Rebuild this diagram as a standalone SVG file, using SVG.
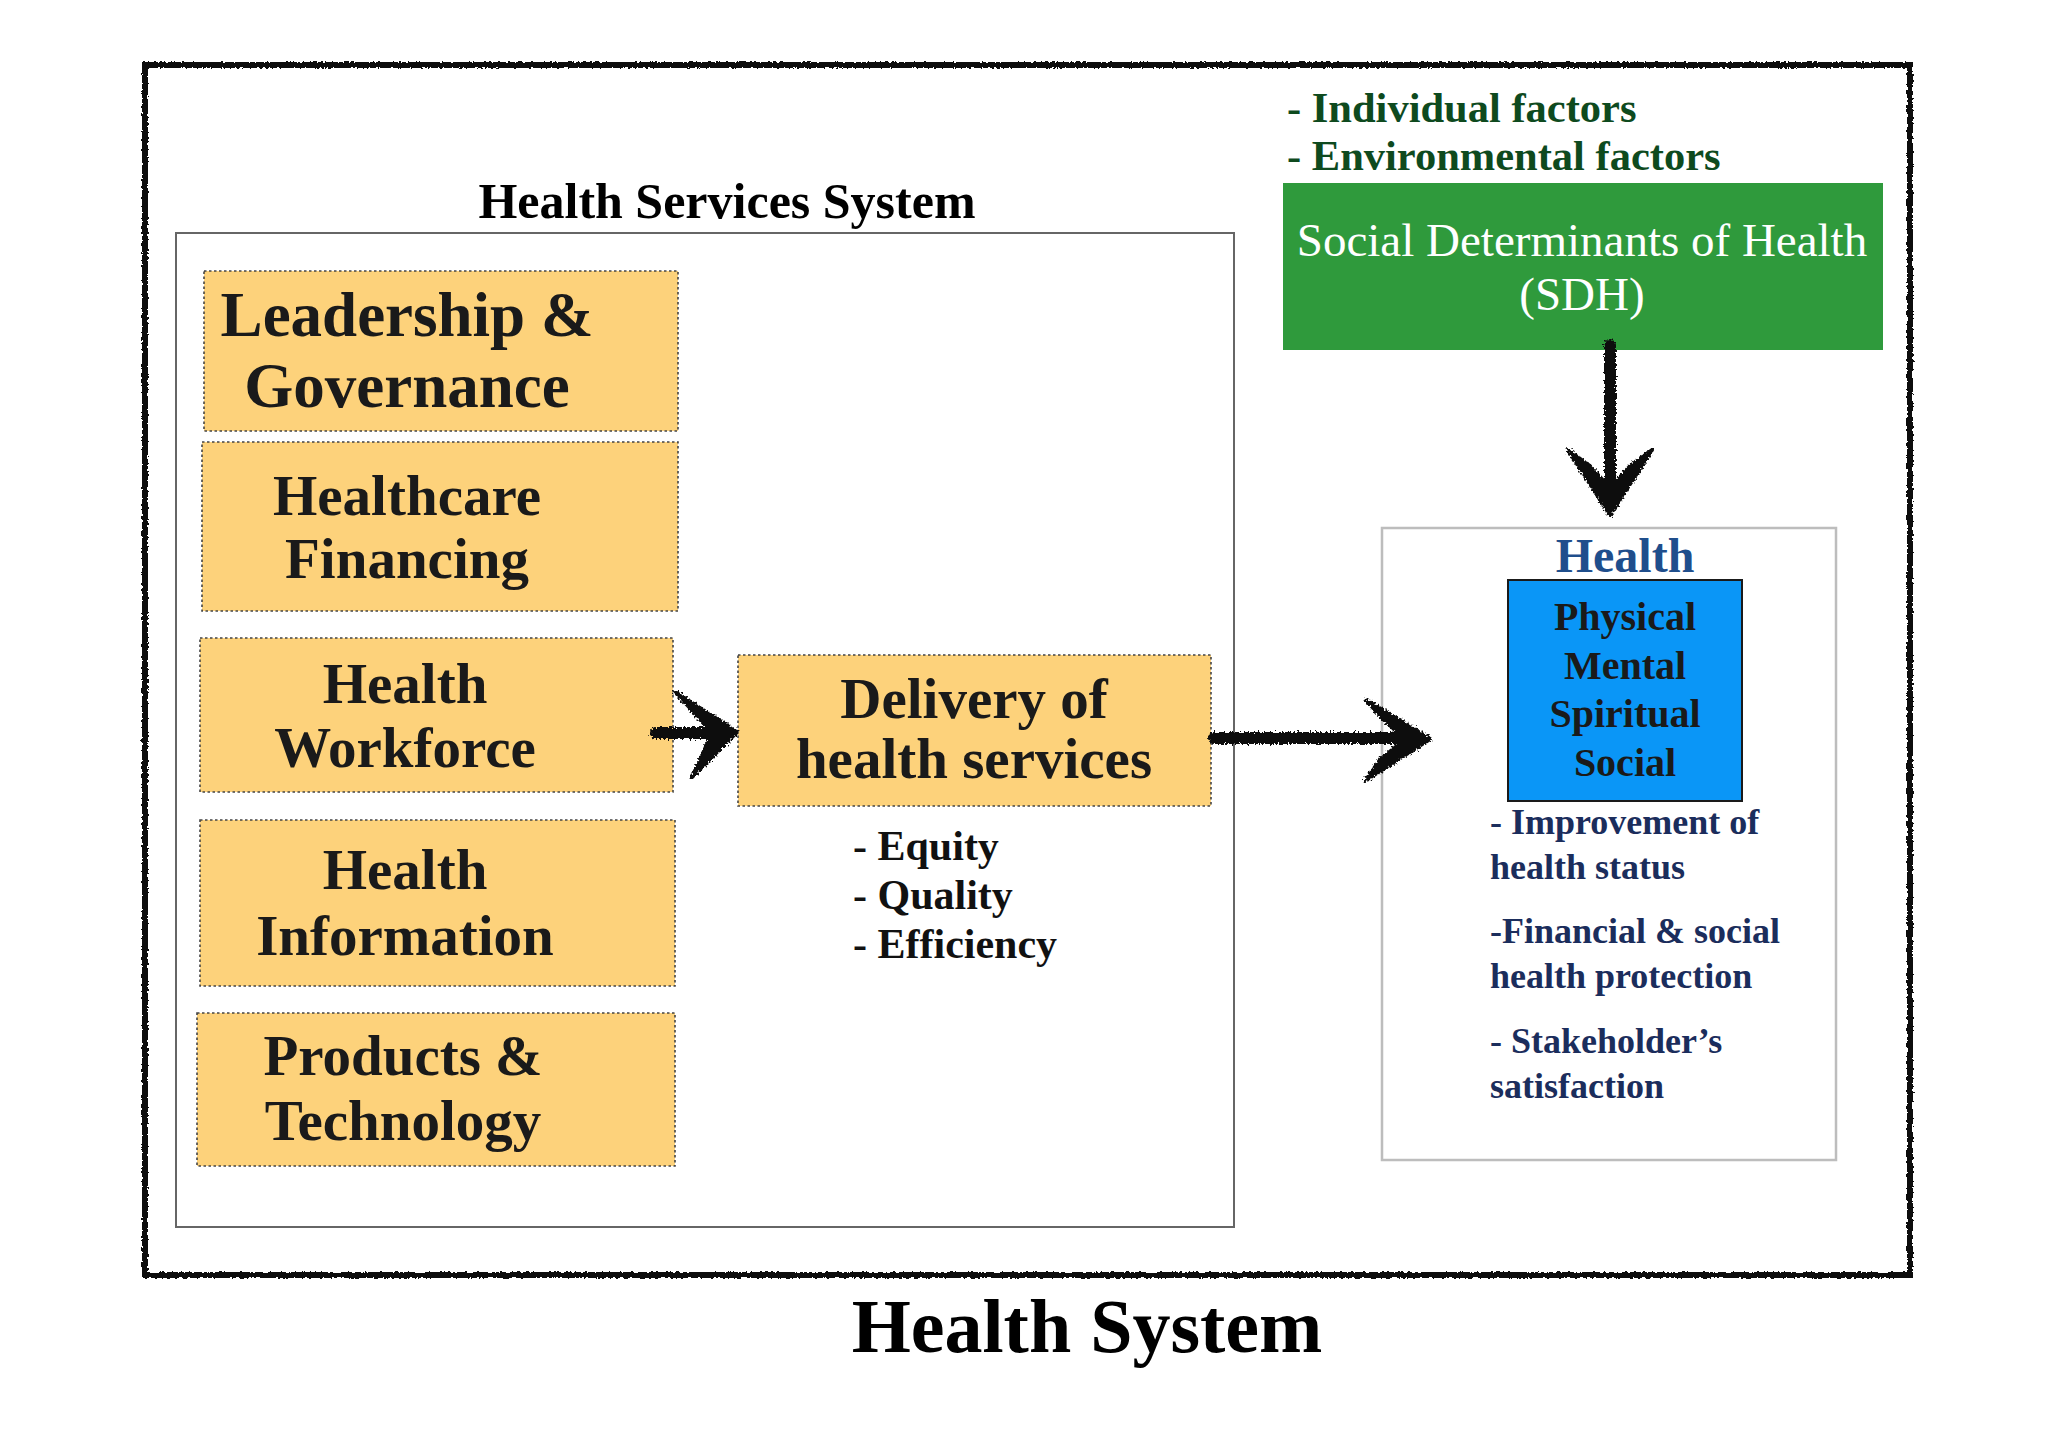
<svg xmlns="http://www.w3.org/2000/svg" width="2048" height="1447" viewBox="0 0 2048 1447">
<defs>
<filter id="rough" x="-5%" y="-5%" width="110%" height="110%">
<feTurbulence type="fractalNoise" baseFrequency="0.35" numOctaves="2" seed="3" result="n"/>
<feDisplacementMap in="SourceGraphic" in2="n" scale="4" xChannelSelector="R" yChannelSelector="G"/>
</filter>
<filter id="roughA" x="-20%" y="-20%" width="140%" height="140%">
<feTurbulence type="fractalNoise" baseFrequency="0.5" numOctaves="2" seed="7" result="n"/>
<feDisplacementMap in="SourceGraphic" in2="n" scale="7" xChannelSelector="R" yChannelSelector="G"/>
</filter>
<style>
.orange{fill:#FDD27B;stroke:#444;stroke-width:1.6;stroke-dasharray:2.5 2.5}
.bt{font-family:"Liberation Serif","Times New Roman",serif;font-weight:bold;fill:#1a1a1a;text-anchor:middle}
.sub{font-family:"Liberation Serif","Times New Roman",serif;font-weight:bold;fill:#111;font-size:42px}
.navy{font-family:"Liberation Serif","Times New Roman",serif;font-weight:bold;fill:#1B2D5C;font-size:36px}
.arrow{stroke:#111;stroke-width:12;fill:none;stroke-linecap:round}
.head{fill:#111;stroke:#111;stroke-width:4;stroke-linejoin:round}
</style>
</defs>
<rect width="2048" height="1447" fill="#ffffff"/>

<g id="frame">
<rect x="145" y="65" width="1765" height="1210" fill="none" stroke="#111" stroke-width="6" filter="url(#rough)"/>
</g>

<g id="health-services-system">
<rect x="176" y="233" width="1058" height="994" fill="#fff" stroke="#666" stroke-width="2"/>
<text x="727" y="218" class="bt" font-size="50" style="fill:#000">Health Services System</text>
</g>

<g id="leadership">
<rect class="orange" x="204" y="271" width="474" height="160"/>
<text class="bt" font-size="63"><tspan x="407" y="336">Leadership &amp;</tspan><tspan x="407" y="407">Governance</tspan></text>
</g>
<g id="financing">
<rect class="orange" x="202" y="442" width="476" height="169"/>
<text class="bt" font-size="57"><tspan x="407" y="515">Healthcare</tspan><tspan x="407" y="578">Financing</tspan></text>
</g>
<g id="workforce">
<rect class="orange" x="200" y="638" width="473" height="154"/>
<text class="bt" font-size="57"><tspan x="405" y="703">Health</tspan><tspan x="405" y="767">Workforce</tspan></text>
</g>
<g id="information">
<rect class="orange" x="200" y="820" width="475" height="166"/>
<text class="bt" font-size="57"><tspan x="405" y="889">Health</tspan><tspan x="405" y="955">Information</tspan></text>
</g>
<g id="products">
<rect class="orange" x="197" y="1013" width="478" height="153"/>
<text class="bt" font-size="57"><tspan x="403" y="1075">Products &amp;</tspan><tspan x="403" y="1140">Technology</tspan></text>
</g>
<g id="delivery">
<rect class="orange" x="738" y="655" width="473" height="151"/>
<text class="bt" font-size="57"><tspan x="974" y="718">Delivery of</tspan><tspan x="974" y="778">health services</tspan></text>
<text class="sub"><tspan x="853" y="860">- Equity</tspan><tspan x="853" y="909">- Quality</tspan><tspan x="853" y="958">- Efficiency</tspan></text>
</g>

<g id="sdh">
<text font-family="'Liberation Serif','Times New Roman',serif" font-weight="bold" font-size="42.5" fill="#0E4A1E"><tspan x="1287" y="122">- Individual factors</tspan><tspan x="1287" y="170">- Environmental factors</tspan></text>
<rect x="1283" y="183" width="600" height="167" fill="#2F9A3C"/>
<text font-family="'Liberation Serif','Times New Roman',serif" font-size="47" fill="#fff" text-anchor="middle"><tspan x="1582" y="256">Social Determinants of Health</tspan><tspan x="1582" y="310">(SDH)</tspan></text>
</g>

<g id="health">
<rect x="1382" y="528" width="454" height="632" fill="#fff" stroke="#bdbdbd" stroke-width="2.5"/>
<text x="1625" y="572" class="bt" font-size="48" style="fill:#1F4E8C">Health</text>
<rect x="1508" y="580" width="234" height="221" fill="#0A96F7" stroke="#1a1a1a" stroke-width="2"/>
<text class="bt" font-size="40"><tspan x="1625" y="630">Physical</tspan><tspan x="1625" y="679">Mental</tspan><tspan x="1625" y="727">Spiritual</tspan><tspan x="1625" y="776">Social</tspan></text>
<text class="navy"><tspan x="1490" y="834">- Improvement of</tspan><tspan x="1490" y="879">health status</tspan><tspan x="1490" y="943">-Financial &amp; social</tspan><tspan x="1490" y="988">health protection</tspan><tspan x="1490" y="1053">- Stakeholder’s</tspan><tspan x="1490" y="1098">satisfaction</tspan></text>
</g>

<g id="connectors" filter="url(#roughA)">
<line class="arrow" x1="656" y1="733" x2="712" y2="733"/>
<polygon class="head" points="675,692 737,732 692,777 700,760 712,733 690,708"/>
<line class="arrow" x1="1214" y1="738" x2="1405" y2="738"/>
<polygon class="head" points="1366,700 1430,739 1366,780 1380,760 1405,739 1382,718"/>
<line class="arrow" x1="1610" y1="345" x2="1610" y2="495"/>
<polygon class="head" points="1568,450 1610,515 1652,450 1630,466 1610,488 1590,466"/>
</g>

<g id="title">
<text x="1087" y="1352" class="bt" font-size="76" style="fill:#000">Health System</text>
</g>
</svg>
